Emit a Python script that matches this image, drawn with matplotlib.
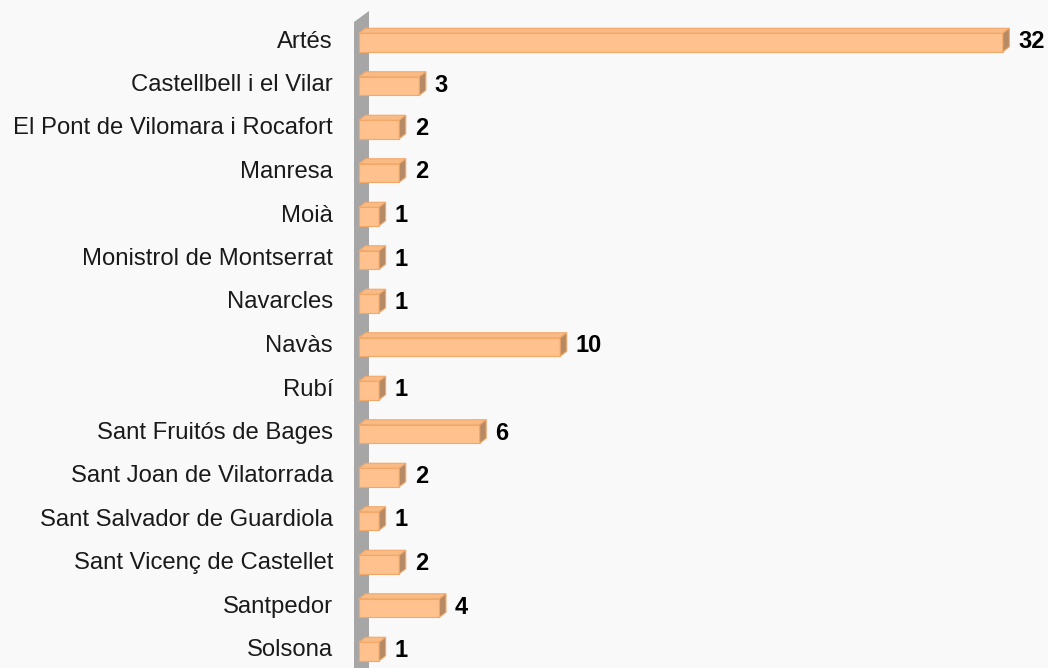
import matplotlib
matplotlib.use("Agg")
import matplotlib.pyplot as plt
from matplotlib.patches import Polygon

categories = ["Artés", "Castellbell i el Vilar", "El Pont de Vilomara i Rocafort",
              "Manresa", "Moià", "Monistrol de Montserrat", "Navarcles", "Navàs",
              "Rubí", "Sant Fruitós de Bages", "Sant Joan de Vilatorrada",
              "Sant Salvador de Guardiola", "Sant Vicenç de Castellet", "Santpedor",
              "Solsona"]
values = [32, 3, 2, 2, 1, 1, 1, 10, 1, 6, 2, 1, 2, 4, 1]

W, H = 1048, 668
BG = "#f9f9f9"
FRONT = "#ffc28e"
TOP = "#f9bb86"
SIDE = "#b68a64"
EDGE = "#f3a868"

plt.rcParams['font.family'] = ['Liberation Sans', 'DejaVu Sans']

fig = plt.figure(figsize=(W / 100, H / 100), dpi=100, facecolor=BG)
ax = fig.add_axes([0, 0, 1, 1], facecolor=BG)
ax.set_axis_off()

x0_px = 359.0
ppu = 20.12          # pixels per unit
row0 = 41.5
step = 43.5
ax.set_xlim(-x0_px / ppu, (W - x0_px) / ppu)
ax.set_ylim((H - row0) / step, -row0 / step)

dx = 6.5 / ppu      # depth in data units (x)
dy = 5.0 / step     # depth in data units (y, up = negative)
bh = 18.5 / step

# back wall
wall = Polygon([(-5 / ppu, (H + 20 - row0) / step), (-5 / ppu, (22 - row0) / step),
                (10 / ppu, (11 - row0) / step), (10 / ppu, (H + 20 - row0) / step)],
               closed=True, facecolor="#a6a6a6", edgecolor="none", zorder=1)
ax.add_patch(wall)

n = len(categories)
ys = list(range(n))
yc = [y + 1.0 / step for y in ys]
ax.barh(yc, values, height=bh, left=0, color=FRONT, edgecolor=EDGE, linewidth=0.8, zorder=3)

for y, v in zip(yc, values):
    top = y - bh / 2
    bot = y + bh / 2
    ax.add_patch(Polygon([(0, top), (v, top), (v + dx, top - dy), (dx, top - dy)],
                         closed=True, facecolor=TOP, edgecolor=EDGE, linewidth=0.8, zorder=3))
    ax.add_patch(Polygon([(v, top), (v + dx, top - dy), (v + dx, bot - dy), (v, bot)],
                         closed=True, facecolor=SIDE, edgecolor=EDGE, linewidth=0.8, zorder=3))

for y, name, v in zip(ys, categories, values):
    ax.text(-26 / ppu, y, name, ha="right", va="center", fontsize=17.2, color="#1a1a1a")
    ax.text(v + dx + 9 / ppu, y, str(v), ha="left", va="center", fontsize=17,
            fontweight="bold", color="#000000")

fig.savefig("out.png", dpi=100, facecolor=BG)
